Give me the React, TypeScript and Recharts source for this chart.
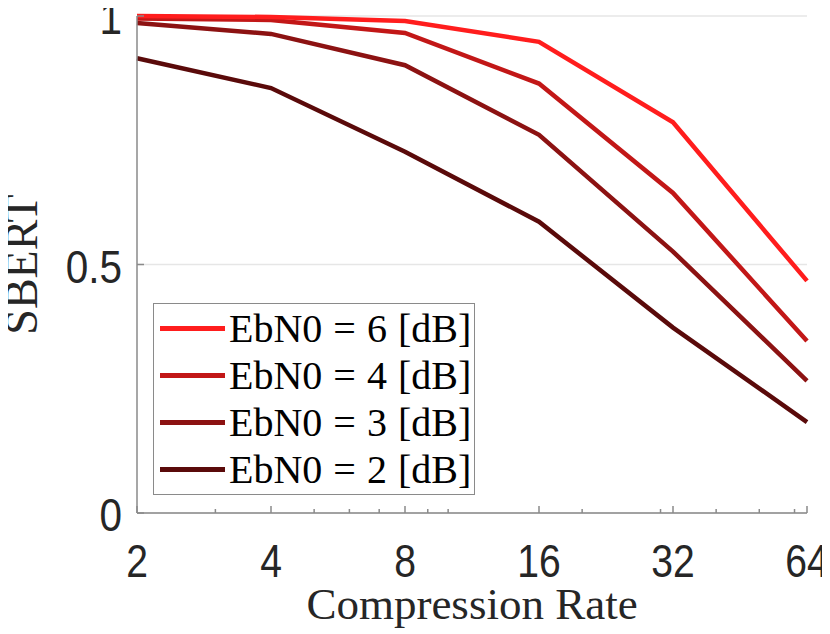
import { LineChart, Line, XAxis, YAxis, CartesianGrid, Legend } from "recharts";

const rates = [2, 4, 8, 16, 32, 64];
const minorRates = [3, 5, 6, 7, 9, 10, 20, 30, 40, 50, 60];
const yTicks = [0, 0.5, 1];

const ebn0_6 = [1.0, 0.998, 0.99, 0.948, 0.786, 0.467];
const ebn0_4 = [0.995, 0.992, 0.966, 0.864, 0.644, 0.346];
const ebn0_3 = [0.986, 0.964, 0.901, 0.761, 0.526, 0.266];
const ebn0_2 = [0.915, 0.855, 0.727, 0.586, 0.373, 0.183];

const series = [
    { key: "e6", label: "EbN0 = 6 [dB]", color: "#ff1d1d", values: ebn0_6 },
    { key: "e4", label: "EbN0 = 4 [dB]", color: "#c21717", values: ebn0_4 },
    { key: "e3", label: "EbN0 = 3 [dB]", color: "#8c1212", values: ebn0_3 },
    { key: "e2", label: "EbN0 = 2 [dB]", color: "#5a0a0a", values: ebn0_2 },
];

const data = rates.map((rate, i) => {
    const row: any = { rate };
    series.forEach((s) => (row[s.key] = s.values[i]));
    return row;
});

const allXTicks = [...rates, ...minorRates].sort((a, b) => a - b);

const TICK_FONT = "'Liberation Sans', Arial, sans-serif";
const SERIF = "'Liberation Serif', 'Times New Roman', serif";
const AXIS = "#8a8a8a";

const XTick = ({ x, y, payload }: any) => {
    const major = rates.includes(payload.value);
    return (
        <g>
            <line x1={x} x2={x} y1={y} y2={y - (major ? 7 : 4)} stroke={AXIS} strokeWidth={1.5} />
            {major && (
                <text
                    x={0}
                    y={0}
                    transform={`translate(${x},${y + 64}) scale(0.85,1)`}
                    textAnchor="middle"
                    fill="#262626"
                    fontSize={46}
                    fontFamily={TICK_FONT}
                >
                    {payload.value}
                </text>
            )}
        </g>
    );
};

const YTick = ({ x, y, payload }: any) => (
    <g>
        <line x1={x} x2={x + 7} y1={y} y2={y} stroke={AXIS} strokeWidth={1.5} />
        <text
            x={0}
            y={0}
            transform={`translate(${x - 15},${y + 18}) scale(0.88,1)`}
            textAnchor="end"
            fill="#262626"
            fontSize={46}
            fontFamily={TICK_FONT}
        >
            {payload.value}
        </text>
    </g>
);

const LegendBox = () => (
    <div
        style={{
            boxSizing: "border-box",
            width: 322,
            height: 192,
            border: "1.5px solid #8a8a8a",
            background: "#fff",
            paddingTop: 1,
        }}
    >
        {series.map((s) => (
            <div key={s.key} style={{ display: "flex", alignItems: "center", height: 47 }}>
                <span style={{ marginLeft: 6, width: 65, height: 4.5, background: s.color, display: "block" }} />
                <span
                    style={{
                        marginLeft: 4,
                        fontFamily: SERIF,
                        fontSize: 40,
                        lineHeight: 1,
                        wordSpacing: 1,
                        color: "#000",
                        whiteSpace: "nowrap",
                    }}
                >
                    {s.label}
                </span>
            </div>
        ))}
    </div>
);

export default function App() {
    return (
        <div style={{ marginLeft: -8, marginTop: -8, width: 830, height: 634, background: "#fff" }}>
            <LineChart width={830} height={634} data={data} margin={{ top: 16, right: 23, left: 0, bottom: 0 }}>
                <CartesianGrid stroke="#e6e6e6" strokeWidth={1.5} vertical={false} />
                <XAxis
                    dataKey="rate"
                    type="number"
                    scale="log"
                    domain={[2, 64]}
                    ticks={allXTicks}
                    interval={0}
                    height={121}
                    tickSize={0}
                    tickMargin={0}
                    tick={<XTick />}
                    axisLine={{ stroke: AXIS, strokeWidth: 1.5 }}
                    tickLine={false}
                    label={{
                        content: ({ viewBox }: any) => (
                            <text
                                x={viewBox.x + viewBox.width / 2}
                                y={619}
                                textAnchor="middle"
                                fontSize={45}
                                fontFamily={SERIF}
                                fill="#262626"
                            >
                                Compression Rate
                            </text>
                        ),
                    }}
                />
                <YAxis
                    type="number"
                    domain={[0, 1]}
                    ticks={yTicks}
                    width={137}
                    tickSize={0}
                    tickMargin={0}
                    tick={<YTick />}
                    axisLine={{ stroke: AXIS, strokeWidth: 1.5 }}
                    tickLine={false}
                    label={{
                        content: ({ viewBox }: any) => (
                            <text
                                x={0}
                                y={0}
                                transform={`translate(37,${viewBox.y + viewBox.height / 2}) rotate(-90)`}
                                textAnchor="middle"
                                fontSize={46}
                                fontFamily={SERIF}
                                fill="#262626"
                            >
                                SBERT
                            </text>
                        ),
                    }}
                />
                <Legend
                    layout="horizontal"
                    verticalAlign="middle"
                    align="center"
                    content={<LegendBox />}
                    wrapperStyle={{ left: 153, top: 303, width: 322, height: 192 }}
                />
                {[...series].reverse().map((s) => (
                    <Line
                        key={s.key}
                        type="linear"
                        dataKey={s.key}
                        stroke={s.color}
                        strokeWidth={4.5}
                        dot={false}
                        activeDot={false}
                        isAnimationActive={false}
                    />
                ))}
            </LineChart>
        </div>
    );
}
